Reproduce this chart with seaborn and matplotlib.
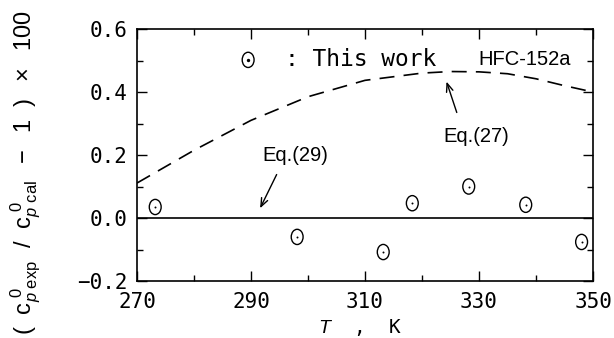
import matplotlib
matplotlib.use("Agg")
import matplotlib.pyplot as plt
from matplotlib.path import Path
from matplotlib.transforms import Affine2D
from matplotlib.ticker import MultipleLocator, FixedLocator, FixedFormatter
import seaborn as sns
import pandas as pd

# Measured deviations (this work) for HFC-152a
T_exp = [273.2, 298.1, 313.2, 318.3, 328.2, 338.2, 348.0]
dev_exp = [0.035, -0.060, -0.108, 0.047, 0.100, 0.042, -0.076]

# Deviation of Eq.(27) from Eq.(29)
T_eq27 = [270, 280, 290, 300, 310, 320, 325, 330, 335, 340, 345, 350]
dev_eq27 = [0.111, 0.215, 0.310, 0.385, 0.437, 0.460, 0.465, 0.464, 0.458, 0.442, 0.420, 0.400]

x_ticks = [270, 290, 310, 330, 350]
x_labels = ["270", "290", "310", "330", "350"]
y_ticks = [-0.2, 0.0, 0.2, 0.4, 0.6]
y_labels = ["\u22120.2", "0.0", "0.2", "0.4", "0.6"]

sns.set_theme(style="white")
plt.rcParams["font.family"] = ["Liberation Sans", "DejaVu Sans"]
plt.rcParams["mathtext.fontset"] = "custom"
plt.rcParams["mathtext.default"] = "regular"
plt.rcParams["mathtext.rm"] = "Liberation Sans"
plt.rcParams["mathtext.it"] = "Liberation Sans:italic"
plt.rcParams["mathtext.sf"] = "Liberation Sans"

mono = "DejaVu Sans Mono"
sans = "Liberation Sans"

fig = plt.figure(figsize=(6.14, 3.38), dpi=100)
ax = fig.add_axes([0.2231, 0.1686, 0.7427, 0.7456])

# tall ellipse marker used for the data points
ell = Path.unit_circle().transformed(Affine2D().scale(0.78, 1.0))

df = pd.DataFrame({"T": T_exp, "dev": dev_exp})
sns.scatterplot(data=df, x="T", y="dev", ax=ax, marker=ell, s=120,
                facecolors="none", edgecolors="black", linewidths=1.0, zorder=3)
sns.scatterplot(data=df, x="T", y="dev", ax=ax, marker="o", s=2,
                color="black", linewidth=0, zorder=4)

df27 = pd.DataFrame({"T": T_eq27, "dev": dev_eq27})
sns.lineplot(data=df27, x="T", y="dev", ax=ax, color="black", lw=1.2,
             linestyle=(0, (9, 5.5)))

# Eq.(29) baseline
ax.axhline(0.0, color="black", lw=1.2)

ax.set_xlim(270, 350)
ax.set_ylim(-0.2, 0.6)
ax.xaxis.set_major_locator(FixedLocator(x_ticks))
ax.xaxis.set_major_formatter(FixedFormatter(x_labels))
ax.xaxis.set_minor_locator(MultipleLocator(10))
ax.yaxis.set_major_locator(FixedLocator(y_ticks))
ax.yaxis.set_major_formatter(FixedFormatter(y_labels))
ax.yaxis.set_minor_locator(MultipleLocator(0.1))

ax.tick_params(which="both", direction="in", top=True, right=True,
               bottom=True, left=True, colors="black", width=1.0)
ax.tick_params(which="major", length=7)
ax.tick_params(which="minor", length=4)
ax.tick_params(axis="x", which="major", pad=8)
ax.tick_params(axis="y", which="major", pad=7)
for lab in ax.get_xticklabels() + ax.get_yticklabels():
    lab.set_fontfamily(mono)
    lab.set_fontsize(15)
    lab.set_color("black")

for sp in ax.spines.values():
    sp.set_color("black")
    sp.set_linewidth(1.2)

ax.set_xlabel("")
ax.set_ylabel("")
fig.text(0.587, 0.03, r"$\mathit{T}$  ,  K", ha="center", va="center",
         fontsize=14, family=mono, color="black")
fig.text(0.042, 0.49,
         r"$(\ \ c_{\mathit{p}\ exp}^{\ 0}\ \ /\ \ c_{\mathit{p}\ cal}^{\ 0}\ \ -\ \ 1\ \ )\ \ \times\ \ 100$",
         rotation=90, ha="center", va="center", fontsize=17,
         family=sans, color="black")

# legend key and labels
ax.scatter([289.5], [0.502], marker=ell, s=120, facecolors="none",
           edgecolors="black", linewidths=1.0)
ax.scatter([289.5], [0.502], marker="o", s=2, color="black")
ax.text(296.0, 0.502, ": This work", ha="left", va="center",
        fontsize=16.5, family=mono, color="black")
ax.text(338.0, 0.502, "HFC-152a", ha="center", va="center",
        fontsize=14.5, family=sans, color="black")

# equation labels with arrows
ax.text(329.6, 0.26, "Eq.(27)", ha="center", va="center",
        fontsize=14.5, family=sans, color="black")
ax.annotate("", xy=(324.3, 0.433), xytext=(326.1, 0.335),
            arrowprops=dict(arrowstyle="->,head_length=0.5,head_width=0.2",
                            color="black", lw=1.0, shrinkA=0, shrinkB=0))
ax.text(297.7, 0.198, "Eq.(29)", ha="center", va="center",
        fontsize=14.5, family=sans, color="black")
ax.annotate("", xy=(291.6, 0.031), xytext=(294.5, 0.138),
            arrowprops=dict(arrowstyle="->,head_length=0.5,head_width=0.2",
                            color="black", lw=1.0, shrinkA=0, shrinkB=0))

fig.savefig("out.png", dpi=100, facecolor="white")
